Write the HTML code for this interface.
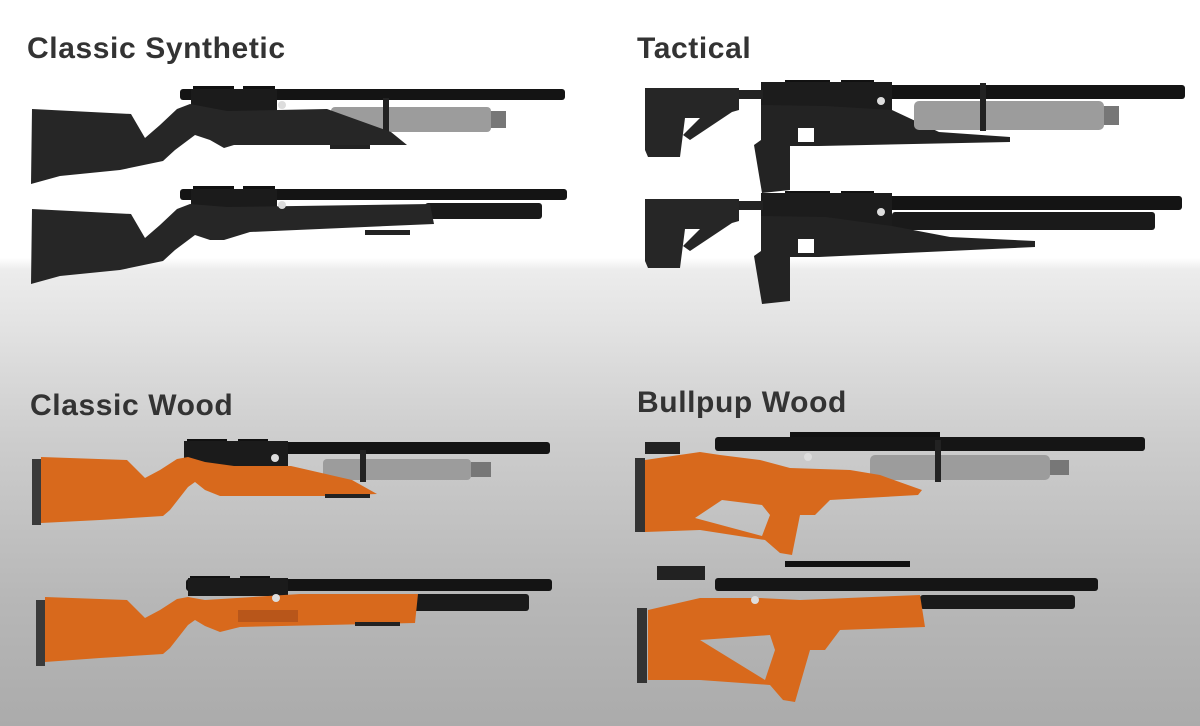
<!DOCTYPE html>
<html><head><meta charset="utf-8"><style>
html,body{margin:0;padding:0;width:1200px;height:726px;overflow:hidden}
body{background:linear-gradient(#fff 0,#fff 258px,#ececec 270px,#e2e2e2 330px,#d8d8d8 380px,#cdcdcd 440px,#c2c2c2 520px,#b7b7b7 600px,#ababab 726px);font-family:"Liberation Sans",sans-serif}
.t{position:absolute;font-size:30px;color:#333;font-weight:bold;letter-spacing:0.6px}
</style></head><body>
<div class="t" style="left:27px;top:32px">Classic Synthetic</div>
<div class="t" style="left:637px;top:32px">Tactical</div>
<div class="t" style="left:30px;top:389px">Classic Wood</div>
<div class="t" style="left:637px;top:386px">Bullpup Wood</div>
<svg width="1200" height="726" style="position:absolute;left:0;top:0">
<!-- Classic Synthetic 1 -->
<rect x="193" y="86" width="41" height="7" fill="#111"/><rect x="243" y="86" width="32" height="7" fill="#111"/>
<rect x="180" y="89" width="385" height="11" rx="3" fill="#141414"/>
<rect x="191" y="89" width="86" height="22" fill="#1b1b1b"/>
<rect x="331" y="107" width="160" height="25" rx="4" fill="#9c9c9c"/><rect x="491" y="111" width="15" height="17" fill="#777"/>
<rect x="383" y="98" width="6" height="36" fill="#222"/>
<path d="M32,109 L131,114 L145,138 L160,125 L177,109 L190,104 L227,111 L327,109 L391,132 L407,145 L234,145 L224,148 L210,140 L195,135 L175,150 L163,161 L120,170 L60,176 L31,184 Z" fill="#262626"/>
<rect x="330" y="145" width="40" height="4" fill="#222"/>
<circle cx="282" cy="105" r="4" fill="#ddd"/>
<!-- Classic Synthetic 2 -->
<g transform="translate(0,100)">
<rect x="193" y="86" width="41" height="7" fill="#111"/><rect x="243" y="86" width="32" height="7" fill="#111"/>
<rect x="180" y="89" width="387" height="11" rx="3" fill="#141414"/>
<rect x="191" y="89" width="86" height="22" fill="#1b1b1b"/>
<rect x="425" y="103" width="117" height="16" rx="3" fill="#1a1a1a"/>
<path d="M32,109 L131,114 L145,138 L160,125 L177,109 L190,104 L227,107 L430,104 L434,124 L250,132 L224,140 L210,140 L195,135 L175,150 L163,161 L120,170 L60,176 L31,184 Z" fill="#262626"/>
<rect x="365" y="130" width="45" height="5" fill="#222"/>
<circle cx="282" cy="105" r="4" fill="#ddd"/>
</g>
<!-- Tactical 1 -->
<g>
<rect x="785" y="80" width="45" height="6" fill="#111"/><rect x="841" y="80" width="33" height="6" fill="#111"/>
<rect x="834" y="85" width="351" height="14" rx="3" fill="#141414"/>
<rect x="761" y="82" width="131" height="35" fill="#1c1c1c"/>
<rect x="739" y="90" width="24" height="9" fill="#222"/>
<path d="M645,88 L739,88 L739,110 L732,112 L690,140 L683,135 L700,118 L685,118 L680,157 L648,157 L645,150 Z" fill="#262626"/>
<path d="M761,105 L826,106 L892,110 L939,132 L1010,137 L1010,142 L819,146 L790,146 L790,190 L762,193 L754,145 L761,140 Z" fill="#232323"/>
<rect x="798" y="128" width="16" height="14" fill="#fff"/>
<rect x="914" y="101" width="190" height="29" rx="5" fill="#9c9c9c"/><rect x="1104" y="106" width="15" height="19" fill="#777"/>
<rect x="980" y="83" width="6" height="48" fill="#222"/>
<circle cx="881" cy="101" r="4" fill="#ddd"/>
</g>
<!-- Tactical 2 -->
<g transform="translate(0,111)">
<rect x="785" y="80" width="45" height="6" fill="#111"/><rect x="841" y="80" width="33" height="6" fill="#111"/>
<rect x="834" y="85" width="348" height="14" rx="3" fill="#141414"/>
<rect x="761" y="82" width="131" height="35" fill="#1c1c1c"/>
<rect x="892" y="101" width="263" height="18" rx="3" fill="#1a1a1a"/>
<rect x="739" y="90" width="24" height="9" fill="#222"/>
<path d="M645,88 L739,88 L739,110 L732,112 L690,140 L683,135 L700,118 L685,118 L680,157 L648,157 L645,150 Z" fill="#262626"/>
<path d="M761,105 L826,106 L892,115 L950,126 L1035,130 L1035,136 L819,146 L790,146 L790,190 L762,193 L754,145 L761,140 Z" fill="#232323"/>
<rect x="798" y="128" width="16" height="14" fill="#fff"/>
<circle cx="881" cy="101" r="4" fill="#ddd"/>
</g>
<!-- Classic Wood 1 -->
<g>
<rect x="187" y="439" width="40" height="6" fill="#111"/><rect x="238" y="439" width="30" height="6" fill="#111"/>
<rect x="184" y="442" width="366" height="12" rx="3" fill="#141414"/>
<rect x="184" y="441" width="104" height="25" fill="#1b1b1b"/>
<rect x="323" y="459" width="148" height="21" rx="4" fill="#9c9c9c"/><rect x="471" y="462" width="20" height="15" fill="#777"/>
<rect x="360" y="450" width="6" height="32" fill="#222"/>
<path d="M41,457 L127,460 L145,478 L160,470 L177,459 L188,457 L205,462 L234,466 L291,466 L352,480 L377,494 L324,496 L220,496 L205,490 L195,482 L188,487 L170,510 L163,516 L100,520 L41,523 Z" fill="#d8691c"/>
<rect x="32" y="459" width="9" height="66" fill="#3a3a3a"/>
<rect x="325" y="494" width="45" height="4" fill="#222"/>
<circle cx="275" cy="458" r="4" fill="#ddd"/>
</g>
<!-- Classic Wood 2 -->
<g>
<rect x="190" y="576" width="40" height="6" fill="#111"/><rect x="240" y="576" width="30" height="6" fill="#111"/>
<rect x="186" y="579" width="366" height="12" rx="3" fill="#141414"/>
<rect x="188" y="578" width="100" height="18" fill="#1b1b1b"/>
<rect x="412" y="594" width="117" height="17" rx="3" fill="#1a1a1a"/>
<path d="M45,597 L127,600 L145,618 L160,610 L177,599 L188,597 L205,600 L300,594 L418,594 L415,623 L240,627 L220,632 L205,626 L195,620 L188,625 L170,648 L163,654 L100,658 L45,662 Z" fill="#d8691c"/>
<rect x="238" y="610" width="60" height="12" fill="#b8561a"/>
<rect x="36" y="600" width="9" height="66" fill="#3a3a3a"/>
<rect x="355" y="622" width="45" height="4" fill="#222"/>
<circle cx="276" cy="598" r="4" fill="#ddd"/>
</g>
<!-- Bullpup 1 -->
<g>
<rect x="645" y="442" width="35" height="12" fill="#222"/>
<rect x="790" y="432" width="150" height="6" fill="#111"/>
<rect x="715" y="437" width="430" height="14" rx="3" fill="#151515"/>
<rect x="870" y="455" width="180" height="25" rx="5" fill="#9c9c9c"/><rect x="1050" y="460" width="19" height="15" fill="#777"/>
<rect x="935" y="440" width="6" height="42" fill="#222"/>
<path fill-rule="evenodd" d="M645,460 L700,452 L720,455 L760,460 L790,468 L850,470 L880,475 L922,490 L918,495 L830,500 L815,515 L800,515 L792,555 L780,553 L765,540 L700,530 L645,532 Z M695,518 L762,536 L770,515 L762,505 L722,500 Z" fill="#d8691c"/>
<rect x="635" y="458" width="10" height="74" fill="#333"/>
<circle cx="808" cy="457" r="4" fill="#ddd"/>
</g>
<!-- Bullpup 2 -->
<g>
<rect x="657" y="566" width="48" height="14" fill="#222"/>
<rect x="785" y="561" width="125" height="6" fill="#111"/>
<rect x="715" y="578" width="383" height="13" rx="3" fill="#151515"/>
<rect x="920" y="595" width="155" height="14" rx="3" fill="#1a1a1a"/>
<path fill-rule="evenodd" d="M648,610 L700,598 L760,598 L800,600 L920,595 L925,627 L840,630 L825,650 L810,650 L795,702 L783,700 L770,685 L700,680 L648,680 Z M700,640 L765,680 L775,650 L770,635 Z" fill="#d8691c"/>
<rect x="637" y="608" width="10" height="75" fill="#333"/>
<circle cx="755" cy="600" r="4" fill="#ddd"/>
</g>
</svg>
</body></html>
